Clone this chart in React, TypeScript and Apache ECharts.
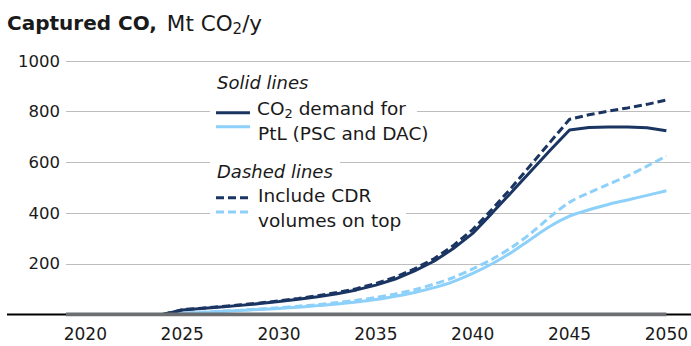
import React, { useEffect, useRef } from "react";
import * as echarts from "echarts";

const years = [2024, 2025, 2026, 2027, 2028, 2029, 2030, 2031, 2032, 2033, 2034, 2035, 2036, 2037, 2038, 2039, 2040, 2041, 2042, 2043, 2044, 2045, 2046, 2047, 2048, 2049, 2050];
const demandSolid = [0, 18, 24, 30, 36, 43, 51, 60, 70, 82, 97, 116, 140, 172, 210, 260, 320, 400, 482, 565, 648, 728, 738, 740, 740, 737, 725];
const demandDashed = [0, 19, 25, 31, 38, 45, 54, 63, 74, 87, 102, 122, 147, 180, 220, 272, 335, 415, 500, 590, 680, 770, 788, 802, 815, 829, 846];
const pscSolid = [0, 5, 8, 12, 16, 20, 24, 29, 35, 41, 49, 59, 72, 87, 106, 130, 162, 200, 245, 297, 348, 388, 413, 434, 452, 470, 488];
const pscDashed = [0, 5, 9, 13, 17, 22, 27, 33, 39, 47, 56, 67, 81, 98, 120, 146, 180, 218, 264, 320, 385, 443, 480, 513, 547, 585, 625];
const zeroLine = [[2019, 0], [2050, 0]];
const xTickLabels = [2020, 2025, 2030, 2035, 2040, 2045, 2050];

const DARK = "#1b3563";
const LIGHT = "#8dd0f9";
const FONT = "DejaVu Sans";
const TEXT = "#1a1a1a";

const pairs = (vals: number[]) => years.map((y, i) => [y, vals[i]]);

export default function App() {
  const ref = useRef<HTMLDivElement>(null);
  useEffect(() => {
    if (!ref.current) return;
    const chart = echarts.init(ref.current, undefined, { renderer: "svg" });
    const lineSeries = (name: string, data: number[], color: string, dashed: boolean, smooth: number) => ({
      name,
      type: "line",
      data: pairs(data),
      showSymbol: false,
      symbol: "none",
      smooth,
      z: 2,
      lineStyle: { color, width: 3, type: dashed ? [8, 4] : "solid" },
    });
    const LFS = 18.5;
    const richBase = (fs: number, weight = "normal", padLeft = 0) => ({
      fontFamily: FONT,
      fontSize: fs,
      fontWeight: weight,
      fill: TEXT,
      lineHeight: Math.round(fs * 1.25),
      verticalAlign: "middle",
      padding: [0, 0, 0, padLeft],
    });
    const richSub = (fs: number) => ({
      fontFamily: FONT,
      fontSize: Math.round(fs * 0.68),
      fill: TEXT,
      lineHeight: Math.round(fs * 0.68),
      verticalAlign: "bottom",
    });
    const legendText = (text: string, x: number, y: number, italic = false) => ({
      type: "text",
      x,
      y,
      z: 102,
      style: {
        text,
        fill: TEXT,
        fontFamily: FONT,
        fontSize: italic ? 18 : LFS,
        fontStyle: italic ? "italic" : "normal",
        verticalAlign: "middle",
        align: "left",
        rich: { n: richBase(LFS), s: richSub(LFS) },
      },
    });
    const whiteRect = (x: number, y: number, w: number, h: number) => ({
      type: "rect",
      z: 100,
      shape: { x, y, width: w, height: h },
      style: { fill: "#fff" },
    });
    const legendLine = (y: number, color: string, dashed: boolean) => ({
      type: "line",
      z: 101,
      shape: { x1: 216, y1: y, x2: 250, y2: y },
      style: { stroke: color, lineWidth: 3, lineDash: dashed ? [8, 4] : null },
    });
    chart.setOption({
      animation: false,
      backgroundColor: "#fff",
      grid: { left: 66, right: 0, top: 61, bottom: 31.5, containLabel: false },
      xAxis: {
        type: "value",
        min: 2019,
        max: 2051.24,
        axisLine: { show: false },
        axisTick: { show: false },
        splitLine: { show: false },
        axisLabel: {
          customValues: xTickLabels,
          margin: 11,
          color: TEXT,
          fontFamily: FONT,
          fontSize: 17,
          formatter: (v: number) => String(v),
        },
      },
      yAxis: {
        type: "value",
        min: 0,
        max: 1000,
        interval: 200,
        axisLine: { show: false },
        axisTick: { show: false },
        splitLine: { lineStyle: { color: "#bdbdbd", width: 1 } },
        axisLabel: {
          margin: 6,
          color: TEXT,
          fontFamily: FONT,
          fontSize: 16.5,
          showMinLabel: false,
          formatter: (v: number) => String(v),
        },
      },
      series: [
        lineSeries("PtL solid", pscSolid, LIGHT, false, 0.3),
        lineSeries("PtL dashed", pscDashed, LIGHT, true, 0.3),
        lineSeries("Demand solid", demandSolid, DARK, false, 0),
        lineSeries("Demand dashed", demandDashed, DARK, true, 0),
        {
          name: "zero",
          type: "line",
          data: zeroLine,
          showSymbol: false,
          symbol: "none",
          z: 5,
          lineStyle: { color: "#6d6e71", width: 4 },
        },
      ],
      graphic: [
        {
          type: "line",
          z: 1,
          shape: { x1: 7, y1: 314.5, x2: 691, y2: 314.5 },
          style: { stroke: "#000", lineWidth: 2 },
        },
        {
          type: "text",
          x: 7,
          y: 23,
          z: 102,
          style: {
            text: "{b|Captured CO,}{r|Mt CO}{s|2}{t|/y}",
            verticalAlign: "middle",
            rich: {
              b: richBase(20, "bold"),
              r: richBase(21.5, "normal", 10),
              t: richBase(21.5),
              s: richSub(21.5),
            },
          },
        },
        whiteRect(210, 104, 207, 16),
        whiteRect(210, 155, 130, 16),
        whiteRect(210, 205, 196, 16),
        legendLine(112.7, DARK, false),
        legendLine(126.7, LIGHT, false),
        legendLine(197.7, DARK, true),
        legendLine(212, LIGHT, true),
        legendText("Solid lines", 217, 82, true),
        legendText("{n|CO}{s|2}{n| demand for}", 257, 108),
        legendText("PtL (PSC and DAC)", 258, 133),
        legendText("Dashed lines", 217, 171, true),
        legendText("Include CDR", 258, 195),
        legendText("volumes on top", 258, 220),
      ],
    });
    return () => chart.dispose();
  }, []);
  return (
    <div
      ref={ref}
      style={{ position: "fixed", left: 0, top: 0, width: 691, height: 346, background: "#fff" }}
    />
  );
}
